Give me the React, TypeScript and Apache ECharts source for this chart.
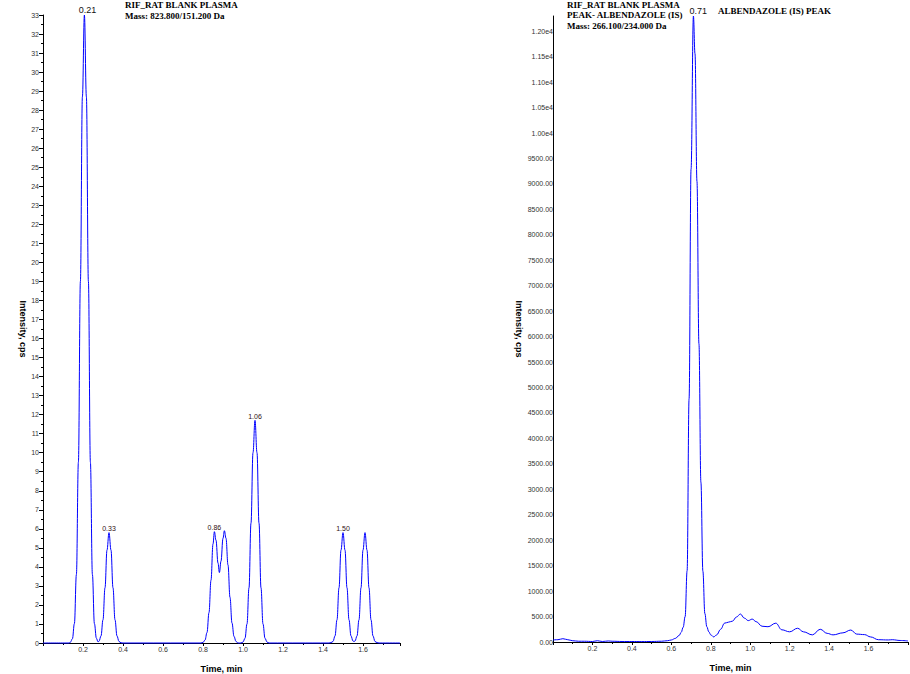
import React, { useEffect, useRef } from "react";
import * as echarts from "echarts";

// ---- Left chromatogram: RIF blank plasma, 823.8/151.2 ----
const leftTime = [
  0, 0.13, 0.137, 0.147, 0.157, 0.167, 0.177, 0.187, 0.197, 0.207, 0.217, 0.227, 0.237, 0.247, 0.257, 0.267, 0.275,
  0.28, 0.29, 0.3, 0.31, 0.32, 0.33, 0.34, 0.35, 0.36, 0.37, 0.38, 0.39, 0.4,
  0.79, 0.8, 0.81, 0.82, 0.83, 0.84, 0.85, 0.857, 0.865, 0.875, 0.882, 0.89, 0.9, 0.907, 0.915, 0.925, 0.935, 0.945, 0.955, 0.965, 0.975,
  0.99, 1.0, 1.01, 1.02, 1.03, 1.04, 1.05, 1.06, 1.07, 1.08, 1.09, 1.1, 1.11, 1.12, 1.13,
  1.43, 1.44, 1.45, 1.46, 1.47, 1.48, 1.49, 1.5, 1.51, 1.52, 1.53, 1.54, 1.55, 1.555,
  1.56, 1.57, 1.58, 1.59, 1.6, 1.61, 1.62, 1.63, 1.64, 1.65, 1.66, 1.67, 1.68, 1.785,
];
const leftIntensity = [
  0, 0, 0.04, 0.22, 1.02, 3.6, 9.5, 19.0, 28.7, 33.0, 28.7, 19.0, 9.5, 3.6, 1.02, 0.25, 0.06,
  0.09, 0.37, 1.22, 2.9, 4.88, 5.8, 4.88, 2.9, 1.22, 0.37, 0.08, 0.01, 0,
  0, 0.03, 0.15, 0.55, 1.6, 3.3, 5.2, 5.85, 5.4, 4.2, 3.7, 4.3, 5.5, 5.9, 5.5, 4.1, 2.4, 1.05, 0.35, 0.08, 0,
  0, 0.05, 0.25, 1.0, 2.9, 6.3, 10.0, 11.7, 10.0, 6.3, 2.9, 1.0, 0.25, 0.05, 0,
  0, 0.02, 0.08, 0.37, 1.22, 2.9, 4.88, 5.8, 4.88, 2.9, 1.22, 0.37, 0.1, 0.08,
  0.1, 0.37, 1.22, 2.9, 4.88, 5.8, 4.88, 2.9, 1.22, 0.37, 0.08, 0.02, 0, 0,
];
const leftPeakTimes = [0.207, 0.33, 0.857, 1.06, 1.5];
const leftPeakText = ["0.21", "0.33", "0.86", "1.06", "1.50"];
const leftTitle = ["RIF_RAT BLANK PLASMA", "Mass: 823.800/151.200 Da"];

// ---- Right chromatogram: Albendazole (IS), 266.1/234.0 ----
const rightTime = [
  0, 0.025, 0.05, 0.075, 0.1, 0.13, 0.16, 0.2, 0.225, 0.25, 0.28, 0.3, 0.35, 0.4, 0.45, 0.5, 0.55, 0.58, 0.6,
  0.62, 0.64, 0.65, 0.66, 0.67, 0.68, 0.69, 0.7, 0.712, 0.72, 0.73, 0.74, 0.75, 0.76, 0.77, 0.78, 0.79, 0.8,
  0.815, 0.83, 0.85, 0.87, 0.89, 0.91, 0.93, 0.95, 0.97, 0.99, 1.01, 1.03, 1.06, 1.09, 1.13, 1.16, 1.2, 1.24,
  1.27, 1.315, 1.355, 1.39, 1.42, 1.47, 1.51, 1.54, 1.58, 1.61, 1.65, 1.7, 1.72, 1.76, 1.8,
];
const rightIntensity = [
  40, 45, 65, 45, 25, 15, 15, 10, 25, 10, 20, 15, 10, 10, 8, 10, 15, 25, 40,
  70, 130, 190, 290, 500, 1400, 4780, 9290, 12300, 11560, 9050, 5860, 3140, 1390, 560, 300, 200, 140,
  100, 140, 250, 370, 390, 410, 490, 550, 470, 420, 450, 400, 310, 300, 370, 240, 200, 270,
  200, 140, 250, 170, 140, 180, 235, 155, 145, 100, 45, 40, 45, 30, 20,
];
const rightPeakTimes = [0.712];
const rightPeakText = ["0.71"];
const rightPeakName = "ALBENDAZOLE (IS) PEAK";
const rightTitle = ["RIF_RAT BLANK PLASMA", "PEAK- ALBENDAZOLE (IS)", "Mass: 266.100/234.000 Da"];

const xName = "Time, min";
const yName = "Intensity, cps";

const SANS = "Liberation Sans";
const SERIF = "Liberation Serif";

function pairs(t: number[], v: number[]) {
  return t.map((x, i) => [x, v[i]]);
}
function valueAt(t: number[], v: number[], x: number) {
  let best = 0;
  for (let i = 0; i < t.length; i++) if (Math.abs(t[i] - x) < Math.abs(t[best] - x)) best = i;
  return v[best];
}

function xAxis(gridIndex: number, max: number) {
  return {
    type: "value",
    gridIndex,
    min: 0,
    max,
    interval: 0.2,
    axisLine: { show: true, onZero: false, lineStyle: { color: "#000", width: 1 } },
    axisTick: { show: true, length: 3, lineStyle: { color: "#000" } },
    minorTick: { show: true, splitNumber: 2, length: 2, lineStyle: { color: "#000" } },
    splitLine: { show: false },
    axisLabel: {
      fontSize: 7,
      fontFamily: SANS,
      color: "#333",
      margin: 3,
      showMinLabel: false,
      showMaxLabel: false,
      formatter: (v: number) => v.toFixed(1),
    },
    name: xName,
    nameLocation: "middle",
    nameGap: 21,
    nameTextStyle: { fontFamily: SANS, fontWeight: "bold", fontSize: 9, color: "#000" },
  };
}

const option = {
  animation: false,
  backgroundColor: "#fff",
  grid: [
    { left: 43, right: 510, top: 15, bottom: 31, containLabel: false, outerBoundsMode: "none" },
    { left: 553, right: 2, top: 16, bottom: 32, containLabel: false, outerBoundsMode: "none" },
  ],
  xAxis: [xAxis(0, 1.785), xAxis(1, 1.8)],
  yAxis: [
    {
      type: "value",
      gridIndex: 0,
      min: 0,
      max: 33,
      interval: 1,
      axisLine: { show: true, lineStyle: { color: "#000", width: 1 } },
      axisTick: { show: true, length: 4, lineStyle: { color: "#000" } },
      minorTick: { show: true, splitNumber: 2, length: 2, lineStyle: { color: "#000" } },
      splitLine: { show: false },
      axisLabel: { fontSize: 7, fontFamily: SANS, color: "#333", margin: 4 },
      name: yName,
      nameLocation: "middle",
      nameRotate: -90,
      nameGap: 16,
      nameTextStyle: { fontFamily: SANS, fontWeight: "bold", fontSize: 9, color: "#000" },
    },
    {
      type: "value",
      gridIndex: 1,
      min: 0,
      max: 12300,
      interval: 500,
      axisLine: { show: true, lineStyle: { color: "#000", width: 1 } },
      axisTick: { show: false },
      splitLine: { show: false },
      axisLabel: {
        fontSize: 7,
        fontFamily: SANS,
        color: "#333",
        margin: 0,
        showMaxLabel: false,
        formatter: (v: number) => (v >= 10000 ? (v / 10000).toFixed(2) + "e4" : v.toFixed(2)),
      },
      name: yName,
      nameLocation: "middle",
      nameRotate: -90,
      nameGap: 29,
      nameTextStyle: { fontFamily: SANS, fontWeight: "bold", fontSize: 9, color: "#000" },
    },
  ],
  series: [
    {
      type: "line",
      xAxisIndex: 0,
      yAxisIndex: 0,
      data: pairs(leftTime, leftIntensity),
      smooth: 0.4,
      smoothMonotone: "x",
      symbol: "none",
      clip: false,
      lineStyle: { color: "#0000ff", width: 1 },
      markPoint: {
        symbol: "circle",
        symbolSize: 1,
        itemStyle: { color: "rgba(0,0,0,0)" },
        data: leftPeakTimes.map((t, i) => ({
          coord: [t, valueAt(leftTime, leftIntensity, t)],
          label: {
            show: true,
            position: "top",
            distance: 0,
            offset: i === 0 ? [3, 0] : [0, 0],
            formatter: leftPeakText[i],
            fontFamily: SANS,
            fontSize: i === 0 ? 9 : 7,
            color: i === 0 ? "#111" : "#301010",
          },
        })),
      },
    },
    {
      type: "line",
      xAxisIndex: 1,
      yAxisIndex: 1,
      data: pairs(rightTime, rightIntensity),
      smooth: 0.4,
      smoothMonotone: "x",
      symbol: "none",
      clip: false,
      lineStyle: { color: "#0000ff", width: 1 },
      markPoint: {
        symbol: "circle",
        symbolSize: 1,
        itemStyle: { color: "rgba(0,0,0,0)" },
        data: rightPeakTimes.map((t, i) => ({
          coord: [t, valueAt(rightTime, rightIntensity, t)],
          label: {
            show: true,
            position: "top",
            align: "left",
            distance: 0,
            offset: [-4, 0],
            formatter: "{a|" + rightPeakText[i] + "}{b|" + rightPeakName + "}",
            rich: {
              a: { fontFamily: SANS, fontSize: 9, color: "#111" },
              b: { fontFamily: SERIF, fontWeight: "bold", fontSize: 9, color: "#000", padding: [0, 0, 0, 11] },
            },
          },
        })),
      },
    },
  ],
  graphic: [
    {
      type: "text",
      left: 125,
      top: 0,
      style: { text: leftTitle.join("\n"), fontFamily: SERIF, fontWeight: "bold", fontSize: 9, lineHeight: 10.5, fill: "#000" },
    },
    {
      type: "text",
      left: 567,
      top: 0,
      style: { text: rightTitle.join("\n"), fontFamily: SERIF, fontWeight: "bold", fontSize: 9, lineHeight: 10.3, fill: "#000" },
    },
  ],
};

export default function App() {
  const ref = useRef<HTMLDivElement>(null);
  useEffect(() => {
    const chart = echarts.init(ref.current!, null, { renderer: "svg" });
    chart.setOption(option as any);
    return () => chart.dispose();
  }, []);
  return (
    <div
      ref={ref}
      style={{ position: "fixed", left: 0, top: 0, width: 910, height: 674, background: "#fff" }}
    />
  );
}
